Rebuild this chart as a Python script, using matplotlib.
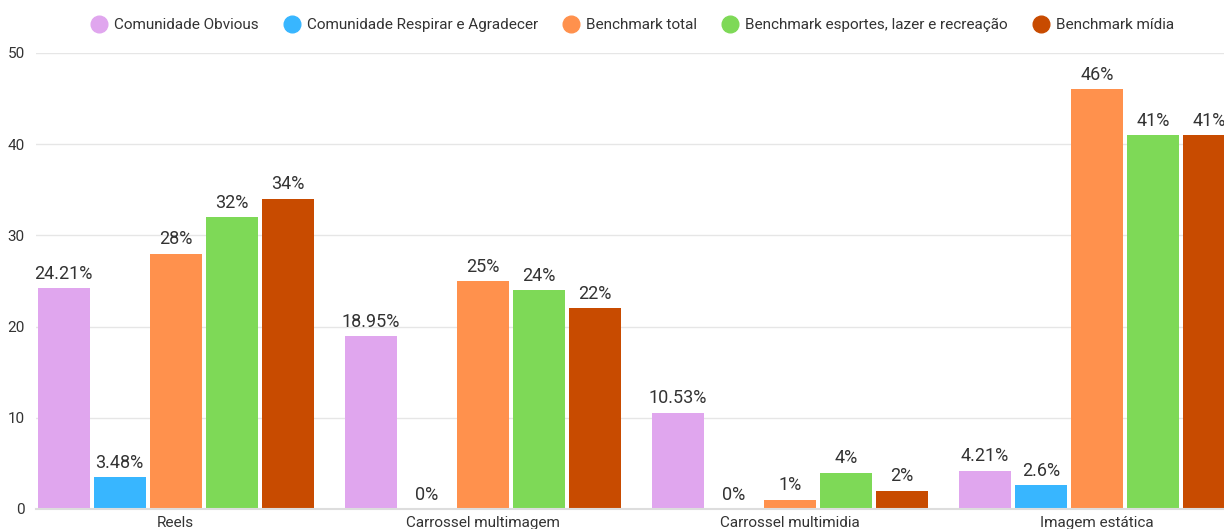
import matplotlib.pyplot as plt
from matplotlib.lines import Line2D
import numpy as np

plt.rcParams['font.family'] = ['Roboto', 'DejaVu Sans']

categories = ["Reels", "Carrossel multimagem", "Carrossel multimidia", "Imagem estática"]
series_names = ["Comunidade Obvious", "Comunidade Respirar e Agradecer", "Benchmark total",
                "Benchmark esportes, lazer e recreação", "Benchmark mídia"]
obvious = [24.21, 18.95, 10.53, 4.21]
respirar = [3.48, 0, 0, 2.6]
bench_total = [28, 25, 1, 46]
bench_esportes = [32, 24, 4, 41]
bench_midia = [34, 22, 2, 41]
colors = ["#E0A6EE", "#38B6FF", "#FF914D", "#7ED957", "#C84B00"]

series = [obvious, respirar, bench_total, bench_esportes, bench_midia]

fig = plt.figure(figsize=(12.24, 5.29), dpi=100)
ax = fig.add_axes([36 / 1224, 20 / 529, (1224 - 36) / 1224, 456 / 529])

x = np.arange(len(categories))
width = 0.170
step = 0.1825
text_color = "#333333"

for i, (vals, col) in enumerate(zip(series, colors)):
    pos = x + (i - 2) * step
    ax.bar(pos, vals, width=width, color=col, zorder=3)
    for p, v in zip(pos, vals):
        ax.text(p, v + 0.6, f"{v:g}%", ha="center", va="bottom",
                fontsize=13, color=text_color, zorder=4)

ax.set_xlim(-0.455, 3.414)
ax.set_ylim(0, 50)
ax.set_yticks(range(0, 51, 10))
ax.set_xticks(x)
ax.set_xticklabels(categories)
ax.tick_params(axis="both", length=0, labelsize=11, colors=text_color)
ax.tick_params(axis="y", pad=8)
ax.tick_params(axis="x", pad=5)
ax.grid(axis="y", color="#e6e6e6", linewidth=1, zorder=0)
for s in ["top", "right", "left"]:
    ax.spines[s].set_visible(False)
ax.spines["bottom"].set_color("#dddddd")
ax.spines["bottom"].set_linewidth(1.5)
ax.spines["bottom"].set_zorder(5)

handles = [Line2D([], [], marker="o", linestyle="", markersize=12,
                  markerfacecolor=c, markeredgecolor=c) for c in colors]
fig.legend(handles, series_names, loc="center", bbox_to_anchor=(0.517, 0.952),
           ncol=5, frameon=False, fontsize=11, handletextpad=0.45,
           columnspacing=1.7, handlelength=1.0, labelcolor=text_color)

fig.savefig("out.png", dpi=100)
